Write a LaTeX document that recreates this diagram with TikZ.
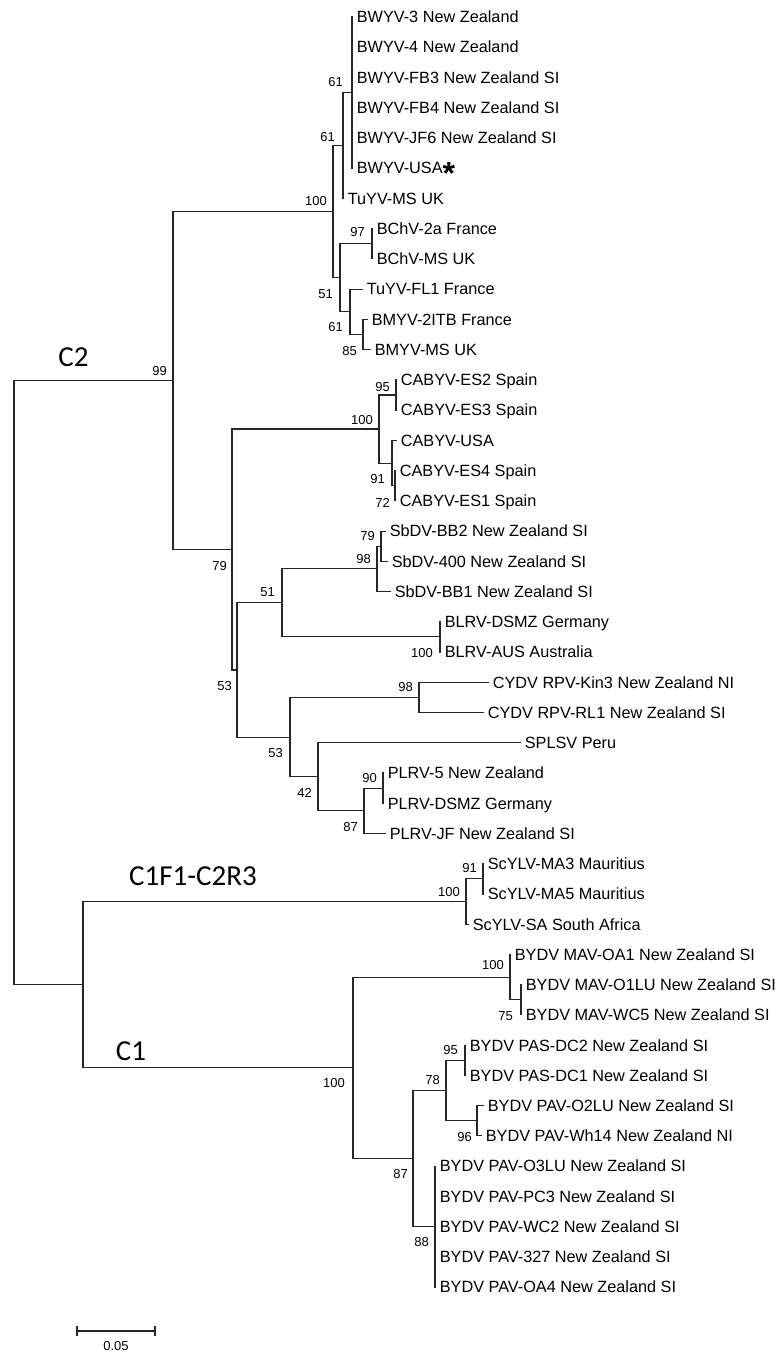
\documentclass[tikz,border=0pt]{standalone}
\usepackage{fontspec}
\setmainfont{Liberation Sans}
\newfontfamily\cladefont{Carlito}
\tikzset{
  branch/.style={line width=0.8pt, black!85, line cap=rect},
  leaf/.style={anchor=west, inner xsep=3.6pt, inner ysep=0pt, outer sep=0pt,
    text height=8.7pt, text depth=0pt, font=\fontsize{12.2}{14}\selectfont},
  boot/.style={anchor=east, inner sep=0pt, text height=7pt, text depth=0pt,
    font=\fontsize{9.75}{11}\selectfont},
  clade/.style={inner sep=0pt, text height=14pt, text depth=0pt,
    font=\cladefont\fontsize{21.75}{24}\selectfont}
}

\begin{document}
\begin{tikzpicture}[x=0.75pt, y=-0.75pt]
\useasboundingbox (0,0) rectangle (781,1351);

% internal nodes
\coordinate (root) at (14,682.6);
\coordinate (nC2) at (173,380.6);
\coordinate (nTop) at (333,211.7);
\coordinate (n61b) at (343,145.5);
\coordinate (nBWYV) at (352,92.6);
\coordinate (nBCh) at (340,277.9);
\coordinate (nBChV) at (372,243.8);
\coordinate (nFL) at (350,311.9);
\coordinate (nBMYV) at (363,334.5);
\coordinate (nMid) at (232,549.5);
\coordinate (nCABYV) at (379,429.0);
\coordinate (nES23) at (396,395.0);
\coordinate (nCU) at (392,463.1);
\coordinate (nES41) at (395,485.7);
\coordinate (nLow) at (237,670.0);
\coordinate (nSbBL) at (282,602.9);
\coordinate (nSb) at (377,568.9);
\coordinate (nSb2) at (381,546.2);
\coordinate (nBLRV) at (440,636.9);
\coordinate (nPol) at (290,737.1);
\coordinate (nCY) at (419,697.4);
\coordinate (nSP) at (318,776.8);
\coordinate (nPL) at (364,810.8);
\coordinate (nPL2) at (383,788.1);
\coordinate (nC1x) at (83,984.7);
\coordinate (nSc) at (466,901.5);
\coordinate (nSc2) at (483,878.9);
\coordinate (nC1) at (353,1067.8);
\coordinate (nMAV) at (510,977.1);
\coordinate (nMAV2) at (521,999.8);
\coordinate (nPA) at (413,1158.6);
\coordinate (nPS) at (446,1090.5);
\coordinate (nPAS) at (465,1060.3);
\coordinate (nPW) at (477,1120.8);
\coordinate (nPV) at (435,1226.6);

% leaves
\node[leaf] (l0) at (352,17.0) {BWYV-3 New Zealand};
\node[leaf] (l1) at (352,47.2) {BWYV-4 New Zealand};
\node[leaf] (l2) at (352,77.5) {BWYV-FB3 New Zealand SI};
\node[leaf] (l3) at (352,107.7) {BWYV-FB4 New Zealand SI};
\node[leaf] (l4) at (352,138.0) {BWYV-JF6 New Zealand SI};
\node[leaf] (l5) at (352,168.2) {BWYV-USA\raisebox{-7.8pt}{\bfseries\fontsize{24}{24}\selectfont *}};
\node[leaf] (l6) at (343,198.4) {TuYV-MS UK};
\node[leaf] (l7) at (372,228.7) {BChV-2a France};
\node[leaf] (l8) at (372,258.9) {BChV-MS UK};
\node[leaf] (l9) at (362,289.2) {TuYV-FL1 France};
\node[leaf] (l10) at (367,319.4) {BMYV-2ITB France};
\node[leaf] (l11) at (370,349.6) {BMYV-MS UK};
\node[leaf] (l12) at (396,379.9) {CABYV-ES2 Spain};
\node[leaf] (l13) at (396,410.1) {CABYV-ES3 Spain};
\node[leaf] (l14) at (396,440.4) {CABYV-USA};
\node[leaf] (l15) at (395,470.6) {CABYV-ES4 Spain};
\node[leaf] (l16) at (395,500.8) {CABYV-ES1 Spain};
\node[leaf] (l17) at (385,531.1) {SbDV-BB2 New Zealand SI};
\node[leaf] (l18) at (387,561.3) {SbDV-400 New Zealand SI};
\node[leaf] (l19) at (390,591.6) {SbDV-BB1 New Zealand SI};
\node[leaf] (l20) at (440,621.8) {BLRV-DSMZ Germany};
\node[leaf] (l21) at (440,652.0) {BLRV-AUS Australia};
\node[leaf] (l22) at (488,682.3) {CYDV RPV-Kin3 New Zealand NI};
\node[leaf] (l23) at (483,712.5) {CYDV RPV-RL1 New Zealand SI};
\node[leaf] (l24) at (520,742.8) {SPLSV Peru};
\node[leaf] (l25) at (383,773.0) {PLRV-5 New Zealand};
\node[leaf] (l26) at (383,803.2) {PLRV-DSMZ Germany};
\node[leaf] (l27) at (385,833.5) {PLRV-JF New Zealand SI};
\node[leaf] (l28) at (483,863.7) {ScYLV-MA3 Mauritius};
\node[leaf] (l29) at (483,894.0) {ScYLV-MA5 Mauritius};
\node[leaf] (l30) at (468,924.2) {ScYLV-SA South Africa};
\node[leaf] (l31) at (510,954.4) {BYDV MAV-OA1 New Zealand SI};
\node[leaf] (l32) at (521,984.7) {BYDV MAV-O1LU New Zealand SI};
\node[leaf] (l33) at (521,1014.9) {BYDV MAV-WC5 New Zealand SI};
\node[leaf] (l34) at (465,1045.2) {BYDV PAS-DC2 New Zealand SI};
\node[leaf] (l35) at (465,1075.4) {BYDV PAS-DC1 New Zealand SI};
\node[leaf] (l36) at (483,1105.6) {BYDV PAV-O2LU New Zealand SI};
\node[leaf] (l37) at (481,1135.9) {BYDV PAV-Wh14 New Zealand NI};
\node[leaf] (l38) at (435,1166.1) {BYDV PAV-O3LU New Zealand SI};
\node[leaf] (l39) at (435,1196.4) {BYDV PAV-PC3 New Zealand SI};
\node[leaf] (l40) at (435,1226.6) {BYDV PAV-WC2 New Zealand SI};
\node[leaf] (l41) at (435,1256.8) {BYDV PAV-327 New Zealand SI};
\node[leaf] (l42) at (435,1287.1) {BYDV PAV-OA4 New Zealand SI};

% branches
\draw[branch] (root) |- (nC2);
\draw[branch] (root) |- (nC1x);
\draw[branch] (nC2) |- (nTop);
\draw[branch] (nC2) |- (nMid);
\draw[branch] (nTop) |- (n61b);
\draw[branch] (nTop) |- (nBCh);
\draw[branch] (n61b) |- (nBWYV);
\draw[branch] (n61b) |- (l6.west);
\draw[branch] (l0.west) -- (l5.west);
\draw[branch] (nBCh) |- (nBChV);
\draw[branch] (nBCh) |- (nFL);
\draw[branch] (l7.west) -- (l8.west);
\draw[branch] (nFL) |- (l9.west);
\draw[branch] (nFL) |- (nBMYV);
\draw[branch] (nBMYV) |- (l10.west);
\draw[branch] (nBMYV) |- (l11.west);
\draw[branch] (nMid) |- (nCABYV);
\draw[branch] (nMid) |- (nLow);
\draw[branch] (nCABYV) |- (nES23);
\draw[branch] (nCABYV) |- (nCU);
\draw[branch] (l12.west) -- (l13.west);
\draw[branch] (nCU) |- (l14.west);
\draw[branch] (nCU) |- (nES41);
\draw[branch] (l15.west) -- (l16.west);
\draw[branch] (nLow) |- (nSbBL);
\draw[branch] (nLow) |- (nPol);
\draw[branch] (nSbBL) |- (nSb);
\draw[branch] (nSbBL) |- (nBLRV);
\draw[branch] (nSb) |- (nSb2);
\draw[branch] (nSb) |- (l19.west);
\draw[branch] (nSb2) |- (l17.west);
\draw[branch] (nSb2) |- (l18.west);
\draw[branch] (l20.west) -- (l21.west);
\draw[branch] (nPol) |- (nCY);
\draw[branch] (nPol) |- (nSP);
\draw[branch] (nCY) |- (l22.west);
\draw[branch] (nCY) |- (l23.west);
\draw[branch] (nSP) |- (l24.west);
\draw[branch] (nSP) |- (nPL);
\draw[branch] (nPL) |- (nPL2);
\draw[branch] (nPL) |- (l27.west);
\draw[branch] (l25.west) -- (l26.west);
\draw[branch] (nC1x) |- (nSc);
\draw[branch] (nC1x) |- (nC1);
\draw[branch] (nSc) |- (nSc2);
\draw[branch] (nSc) |- (l30.west);
\draw[branch] (l28.west) -- (l29.west);
\draw[branch] (nC1) |- (nMAV);
\draw[branch] (nC1) |- (nPA);
\draw[branch] (nMAV) |- (l31.west);
\draw[branch] (nMAV) |- (nMAV2);
\draw[branch] (l32.west) -- (l33.west);
\draw[branch] (nPA) |- (nPS);
\draw[branch] (nPA) |- (nPV);
\draw[branch] (nPS) |- (nPAS);
\draw[branch] (nPS) |- (nPW);
\draw[branch] (l34.west) -- (l35.west);
\draw[branch] (nPW) |- (l36.west);
\draw[branch] (nPW) |- (l37.west);
\draw[branch] (l38.west) -- (l42.west);

% bootstrap values
\node[boot] (b1) at (343,82) {61};
\node[boot] (b2) at (335,137) {61};
\node[boot] (b3) at (327,201) {100};
\node[boot] (b4) at (365,232) {97};
\node[boot] (b5) at (333,294) {51};
\node[boot] (b6) at (343,327) {61};
\node[boot] (b7) at (357,351) {85};
\node[boot] (b8) at (167,371) {99};
\node[boot] (b9) at (390,387) {95};
\node[boot] (b10) at (373,420) {100};
\node[boot] (b11) at (385,479) {91};
\node[boot] (b12) at (390,503) {72};
\node[boot] (b13) at (375,536) {79};
\node[boot] (b14) at (371,559) {98};
\node[boot] (b15) at (227,566) {79};
\node[boot] (b16) at (275,592) {51};
\node[boot] (b17) at (433,653) {100};
\node[boot] (b18) at (232,686) {53};
\node[boot] (b19) at (413,687) {98};
\node[boot] (b20) at (283,753) {53};
\node[boot] (b21) at (377,778) {90};
\node[boot] (b22) at (312,793) {42};
\node[boot] (b23) at (358,827) {87};
\node[boot] (b24) at (477,868) {91};
\node[boot] (b25) at (460,892) {100};
\node[boot] (b26) at (504,965) {100};
\node[boot] (b27) at (513,1016) {75};
\node[boot] (b28) at (458,1050) {95};
\node[boot] (b29) at (440,1080) {78};
\node[boot] (b30) at (345,1083) {100};
\node[boot] (b31) at (472,1137) {96};
\node[boot] (b32) at (408,1174) {87};
\node[boot] (b33) at (429,1242) {88};

% clade names
\node[clade] (cC2) at (73.5,357) {C2};
\node[clade] (cC1F1) at (193,876) {C1F1-C2R3};
\node[clade] (cC1) at (131,1051) {C1};

% scale bar
\coordinate (sbL) at (77,1331);
\coordinate (sbR) at (155,1331);
\draw[branch] (sbL) -- (sbR);
\draw[branch] ([yshift=3.5pt]sbL) -- ([yshift=-3.5pt]sbL);
\draw[branch] ([yshift=3.5pt]sbR) -- ([yshift=-3.5pt]sbR);
\node[boot, anchor=center] (sbT) at (116,1346) {0.05};
\end{tikzpicture}
\end{document}
